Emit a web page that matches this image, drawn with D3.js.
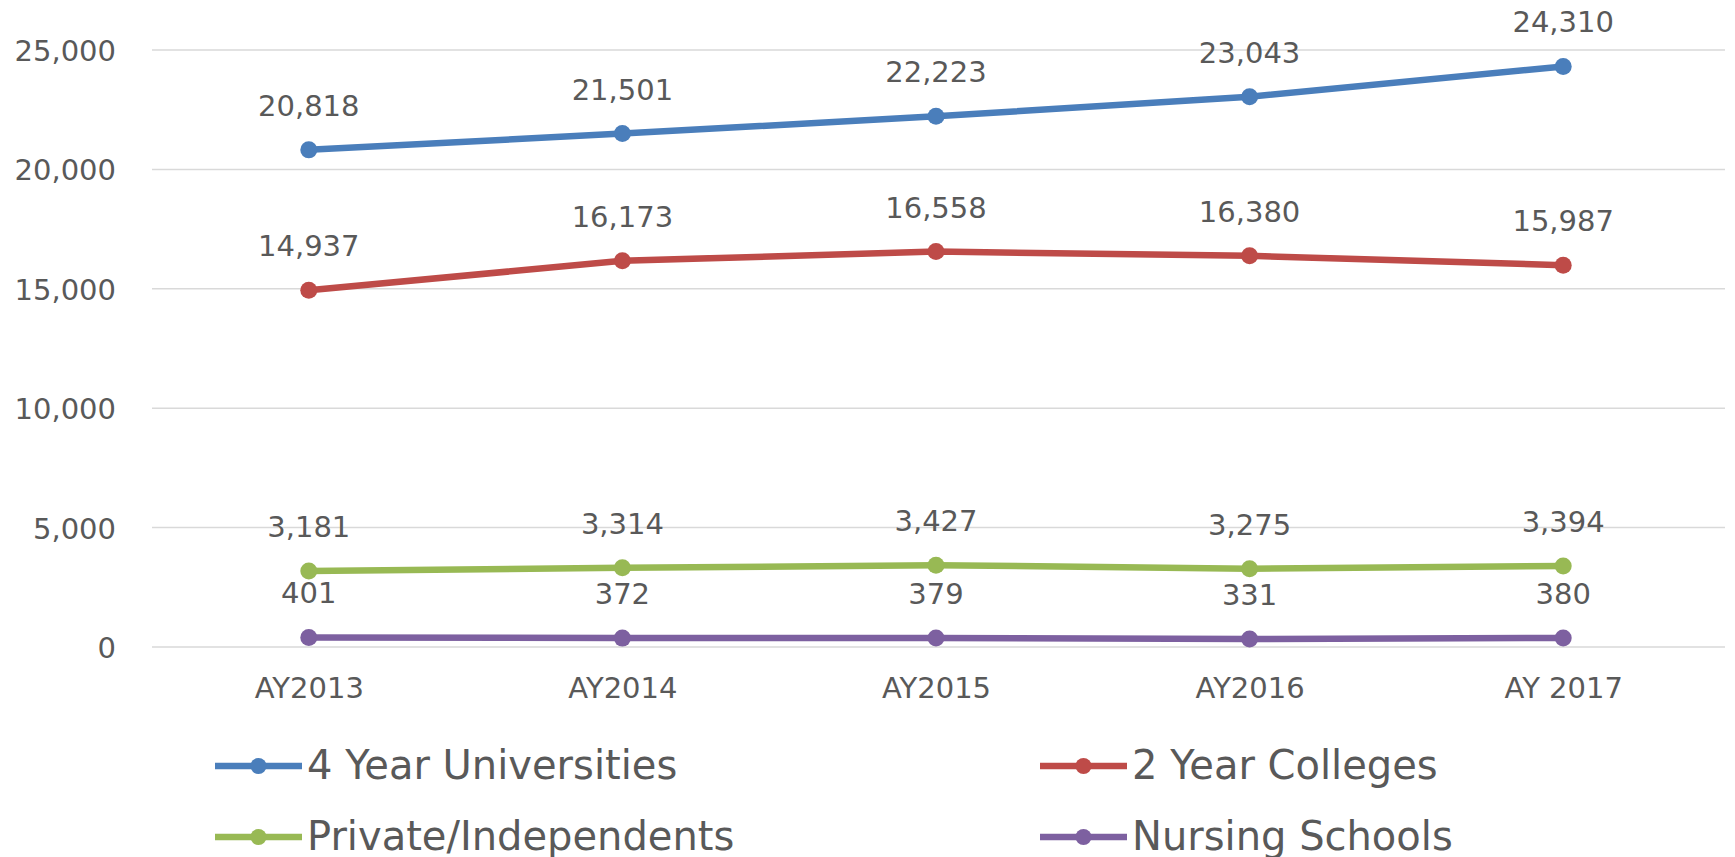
<!DOCTYPE html>
<html>
<head>
<meta charset="utf-8">
<script src="https://cdn.jsdelivr.net/npm/d3@7"></script>
<style>
  html, body { margin: 0; padding: 0; background: #fff; }
  svg text { font-family: "DejaVu Sans", sans-serif; fill: #595959; }
</style>
</head>
<body>
<svg id="chart" width="1735" height="857"></svg>
<script>
const categories = ["AY2013", "AY2014", "AY2015", "AY2016", "AY 2017"];
const univ_values = [20818, 21501, 22223, 23043, 24310];
const college_values = [14937, 16173, 16558, 16380, 15987];
const private_values = [3181, 3314, 3427, 3275, 3394];
const nursing_values = [401, 372, 379, 331, 380];
const series_names = ["4 Year Universities", "2 Year Colleges", "Private/Independents", "Nursing Schools"];
const series_colors = ["#4a7ebb", "#be4b48", "#98b954", "#7d60a0"];
const y_ticks = [0, 5000, 10000, 15000, 20000, 25000];

const series = [univ_values, college_values, private_values, nursing_values]
    .map((values, i) => ({ name: series_names[i], color: series_colors[i], values: values }));

const svg = d3.select("#chart");
const fmt = d3.format(",");

let x_scale = d3.scalePoint()
    .domain(categories)
    .range([152, 1720])
    .padding(0.5);
let y_scale = d3.scaleLinear()
    .domain([0, 25000])
    .range([647, 50]);

// Gridlines
svg.append("g")
    .selectAll("line")
    .data(y_ticks)
    .join("line")
    .attr("x1", 152)
    .attr("x2", 1725)
    .attr("y1", d => y_scale(d))
    .attr("y2", d => y_scale(d))
    .attr("stroke", "#d9d9d9")
    .attr("stroke-width", 1.5);

// Y axis labels
let y_axis = d3.axisLeft(y_scale).tickValues(y_ticks).tickFormat(fmt).tickSize(0).tickPadding(0);
let y_axis_group = svg.append("g")
    .attr("transform", "translate(116, 0)")
    .call(y_axis);
y_axis_group.select(".domain").remove();
y_axis_group.selectAll("text")
    .attr("font-family", null)
    .style("font-size", "29px")
    .attr("dy", "0.36em");

// X axis labels
let x_axis = d3.axisBottom(x_scale).tickSize(0).tickPadding(0);
let x_axis_group = svg.append("g")
    .attr("transform", "translate(0, 676)")
    .call(x_axis);
x_axis_group.select(".domain").remove();
x_axis_group.selectAll("text")
    .attr("font-family", null)
    .style("font-size", "29px")
    .attr("dy", "0.76em");

// Lines, markers and labels
let line = d3.line()
    .x((d, i) => x_scale(categories[i]))
    .y(d => y_scale(d));

let series_groups = svg.append("g")
    .selectAll("g")
    .data(series)
    .join("g");

series_groups.append("path")
    .attr("d", d => line(d.values))
    .attr("fill", "none")
    .attr("stroke", d => d.color)
    .attr("stroke-width", 6.5)
    .attr("stroke-linejoin", "round");

series_groups.selectAll("circle")
    .data(d => d.values.map((v, i) => ({ v: v, i: i, color: d.color })))
    .join("circle")
    .attr("cx", d => x_scale(categories[d.i]))
    .attr("cy", d => y_scale(d.v))
    .attr("r", 8.5)
    .style("fill", d => d.color);

series_groups.selectAll("text")
    .data(d => d.values.map((v, i) => ({ v: v, i: i })))
    .join("text")
    .attr("x", d => x_scale(categories[d.i]))
    .attr("y", d => y_scale(d.v) - 34)
    .attr("text-anchor", "middle")
    .style("font-size", "29px")
    .text(d => fmt(d.v));

// Legend (second row sits at the bottom edge, as in the original crop)
const legend_x = [215, 1040], legend_y = [766, 837];
let legend = svg.append("g")
    .selectAll("g")
    .data(series)
    .join("g")
    .attr("transform", (d, i) => "translate(" + legend_x[i % 2] + "," + legend_y[Math.floor(i / 2)] + ")");

legend.append("line")
    .attr("x1", 0)
    .attr("x2", 87)
    .attr("stroke", d => d.color)
    .attr("stroke-width", 6.5);
legend.append("circle")
    .attr("cx", 43.5)
    .attr("r", 8)
    .style("fill", d => d.color);
legend.append("text")
    .attr("x", 92)
    .attr("y", 13)
    .style("font-size", "40px")
    .text(d => d.name);
</script>
</body>
</html>
